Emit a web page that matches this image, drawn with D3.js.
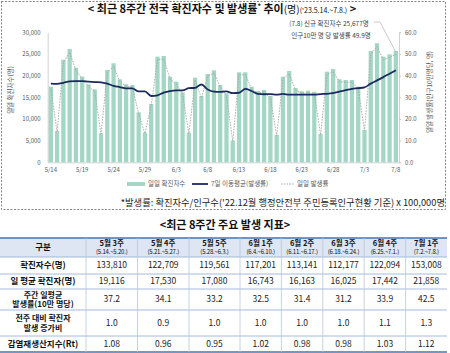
<!DOCTYPE html>
<html><head><meta charset="utf-8">
<script src="https://cdn.jsdelivr.net/npm/d3@7"></script>
<style>
body{margin:0;background:#fff}
svg{display:block}
text{font-family:"Noto Sans CJK KR","Noto Sans",sans-serif}
</style>
</head><body>
<svg id="c" width="450" height="353"></svg>
<script>
// ---------- DATA ----------
const dates = ["5/14","5/15","5/16","5/17","5/18","5/19","5/20","5/21","5/22","5/23","5/24","5/25","5/26","5/27",
"5/28","5/29","5/30","5/31","6/1","6/2","6/3","6/4","6/5","6/6","6/7","6/8","6/9","6/10",
"6/11","6/12","6/13","6/14","6/15","6/16","6/17","6/18","6/19","6/20","6/21","6/22","6/23","6/24",
"6/25","6/26","6/27","6/28","6/29","6/30","7/1","7/2","7/3","7/4","7/5","7/6","7/7","7/8"];
const dailyCases = [17450,7220,23680,26150,21840,19760,18000, 16850,6690,21300,22850,19150,18000,17840,
11540,6830,13460,24380,24530,19760,18600, 16150,6830,19530,15300,20380,21230,17840,
15920,5000,20770,20770,17450,16450,16690, 15300,6300,19760,21070,17150,16390,16530,
16300,6530,20910,21530,19150,19000,19000, 17450,7450,25690,27470,24380,24930,25677];
const movingAvgRate = [36.3,36.2,36.7,37.3,37.5,37.5,37.2, 37.0,36.9,36.3,35.3,34.7,34.1,34.1,
32.7,32.7,30.6,30.9,32.2,32.9,33.2, 33.2,34.2,34.4,35.9,33.6,32.6,32.5,
32.7,31.9,32.1,33.9,32.9,31.6,31.4, 31.5,31.2,31.6,31.2,31.2,31.2,31.2,
31.2,31.5,31.6,31.9,32.6,33.3,33.9, 34.2,34.6,36.3,37.8,39.3,40.9,42.5];
const dailyRate = [33.9,14.0,46.0,50.8,42.4,38.4,35.0, 32.7,13.0,41.4,44.4,37.2,35.0,34.7,
22.4,13.3,26.2,47.4,47.7,38.4,36.1, 31.4,13.3,38.0,29.7,39.6,41.3,34.7,
30.9,9.7,40.4,40.4,33.9,32.0,32.4, 29.7,12.2,38.4,40.9,33.3,31.9,32.1,
31.7,12.7,40.6,41.8,37.2,36.9,36.9, 33.9,14.5,49.9,53.4,47.4,48.4,49.9];
const leftTicks = [0,5000,10000,15000,20000,25000,30000];
const rightTicks = [0,10,20,30,40,50,60];
const xTickLabels = ["5/14","5/19","5/24","5/29","6/3","6/8","6/13","6/18","6/23","6/28","7/3","7/8"];
const legendLabels = ["일일 확진자수","7일 이동평균(발생률)","일일 발생률"];

const weekNames = ["5월 3주","5월 4주","5월 5주","6월 1주","6월 2주","6월 3주","6월 4주","7월 1주"];
const weekRanges = ["(5.14.~5.20.)","(5.21.~5.27.)","(5.28.~6.3.)","(6.4.~6.10.)","(6.11.~6.17.)","(6.18.~6.24.)","(6.25.~7.1.)","(7.2.~7.8.)"];
const weeklyCases = [133810,122709,119561,117201,113141,112177,122094,153008];
const dailyAverage = [19116,17530,17080,16743,16163,16025,17442,21858];
const weeklyRate = [37.2,34.1,33.2,32.5,31.4,31.2,33.9,42.5];
const growthRatio = [1.0,0.9,1.0,1.0,1.0,1.0,1.1,1.3];
const rtValues = [1.08,0.96,0.95,1.02,0.98,0.98,1.03,1.12];
const rowLabels = [["확진자수(명)"],["일 평균 확진자(명)"],["주간 일평균","발생률(10만 명당)"],["전주 대비 확진자","발생 증가비"],["감염재생산지수(Rt)"]];

// ---------- CHART ----------
const svg = d3.select("#c");
const barColor = "#a3d6c5", lineColor = "#1b2a5e", dotColor = "#a6a6a6", axisText = "#595959";

// dashed frame
svg.append("rect").attr("x",1.5).attr("y",1.5).attr("width",444).attr("height",208)
  .attr("fill","none").attr("stroke","#666").attr("stroke-width",0.8).attr("stroke-dasharray","2,1.5");

// title
const t = svg.append("text").attr("x",222).attr("y",12.5).attr("text-anchor","middle").attr("fill","#111");
t.append("tspan").attr("font-size",11).attr("font-weight","bold").text("< 최근 8주간 전국 확진자수 및 발생률");
t.append("tspan").attr("font-size",7).attr("font-weight","bold").attr("dy",-3.5).text("*");
t.append("tspan").attr("font-size",11).attr("font-weight","bold").attr("dy",3.5).text(" 추이");
t.append("tspan").attr("font-size",10).text("(명)");
t.append("tspan").attr("font-size",7).text("('23.5.14.~7.8.)");
t.append("tspan").attr("font-size",11).attr("font-weight","bold").text(" >");

const x = d3.scaleBand().domain(dates).range([47.7,399]).paddingInner(0.32).paddingOuter(0.16);
const yL = d3.scaleLinear().domain([0,30000]).range([162.3,32.3]);
const yR = d3.scaleLinear().domain([0,60]).range([162.3,32.3]);

// axes
const gL = svg.append("g").attr("transform","translate(47.7,0)")
  .call(d3.axisLeft(yL).tickValues(leftTicks).tickSize(0).tickPadding(7).tickFormat(d3.format(",")));
const gR = svg.append("g").attr("transform","translate(399,0)")
  .call(d3.axisRight(yR).tickValues(rightTicks).tickSize(2).tickPadding(4).tickFormat(d3.format(".1f")));
const gX = svg.append("g").attr("transform","translate(0,162.3)")
  .call(d3.axisBottom(x).tickValues(xTickLabels).tickSize(0).tickPadding(5));
[gL,gR,gX].forEach(g=>{
  g.selectAll("path").attr("stroke","#c8c8c8").attr("stroke-width",0.8);
  g.selectAll("line").attr("stroke","#c8c8c8");
  g.selectAll("text").attr("font-size",6).attr("fill",axisText).attr("font-family","'Noto Sans CJK KR',sans-serif");
});

// axis titles
svg.append("text").attr("transform","translate(11,90) rotate(-90)").attr("text-anchor","middle")
  .attr("font-size",6.5).attr("fill",axisText).attr("dy","0.35em").text("일일 확진자수(명)");
svg.append("text").attr("transform","translate(430,92) rotate(-90)").attr("text-anchor","middle")
  .attr("font-size",6.5).attr("fill",axisText).attr("dy","0.35em").text("일일 발생률(인구10만명당, 명)");

// bars
svg.append("g").selectAll("rect").data(dailyCases).join("rect")
  .attr("x",(d,i)=>x(dates[i])).attr("width",x.bandwidth())
  .attr("y",d=>yL(d)).attr("height",d=>yL(0)-yL(d)).attr("fill",barColor);

// dotted daily rate
const cx = i => x(dates[i]) + x.bandwidth()/2;
svg.append("path").datum(dailyRate)
  .attr("d",d3.line().x((d,i)=>cx(i)).y(d=>yR(d)))
  .attr("fill","none").attr("stroke",dotColor).attr("stroke-width",0.9).attr("stroke-dasharray","1.6,1.2");

// moving average
svg.append("path").datum(movingAvgRate)
  .attr("d",d3.line().x((d,i)=>cx(i)).y(d=>yR(d)).curve(d3.curveMonotoneX))
  .attr("fill","none").attr("stroke",lineColor).attr("stroke-width",1.8);

// annotation
const last = dates.length-1;
svg.append("text").attr("x",329).attr("y",26).attr("text-anchor","middle").attr("font-size",6.5).attr("fill","#404040")
  .text("(7.8) 신규 확진자수 " + d3.format(",")(dailyCases[last]) + "명");
svg.append("text").attr("x",331).attr("y",37.5).attr("text-anchor","middle").attr("font-size",6.5).attr("fill","#404040")
  .text("인구10만 명 당 발생률 " + d3.format(".1f")(dailyRate[last]) + "명");
svg.append("path").attr("d",`M374,22L380,22L${cx(last)},${yR(dailyRate[last])-2}`)
  .attr("fill","none").attr("stroke","#b0b0b0").attr("stroke-width",0.7);

// legend
const lg = svg.append("g").attr("transform","translate(0,184)");
lg.append("rect").attr("x",127).attr("y",-2).attr("width",18).attr("height",4).attr("fill",barColor);
lg.append("line").attr("x1",192).attr("x2",208).attr("stroke",lineColor).attr("stroke-width",1.8);
lg.append("line").attr("x1",281).attr("x2",294).attr("stroke",dotColor).attr("stroke-width",0.9).attr("stroke-dasharray","1.6,1.2");
[148,211,297].forEach((lx,i)=>{
  lg.append("text").attr("x",lx).attr("dy","0.35em").attr("font-size",6.5).attr("fill",axisText).text(legendLabels[i]);
});

// footnote
svg.append("text").attr("x",445).attr("y",206).attr("text-anchor","end").attr("font-size",9.3).attr("fill","#222")
  .text("*발생률: 확진자수/인구수('22.12월 행정안전부 주민등록인구현황 기준) x 100,000명");

// ---------- TABLE ----------
svg.append("text").attr("x",225).attr("y",229).attr("text-anchor","middle").attr("font-size",11)
  .attr("font-weight","bold").attr("fill","#111").text("<최근 8주간 주요 발생 지표>");

const colEdges = [0,86,137.5,189,240,281.4,322.8,364.2,405.6,447];
const rowEdges = [238,257,274,289,310,336,352];
const tbl = svg.append("g");
tbl.append("rect").attr("x",colEdges[0]).attr("y",rowEdges[0]).attr("width",colEdges[9]-colEdges[0])
  .attr("height",rowEdges[1]-rowEdges[0]).attr("fill","#dde6f2");
tbl.selectAll("line.h").data(rowEdges).join("line").attr("class","h")
  .attr("x1",colEdges[0]).attr("x2",colEdges[9]).attr("y1",d=>d).attr("y2",d=>d)
  .attr("stroke",(d,i)=> (i===0||i===rowEdges.length-1) ? "#4a72b0" : "#8fa9d0")
  .attr("stroke-width",(d,i)=> (i===0||i===rowEdges.length-1) ? 1.6 : 0.8);
tbl.selectAll("line.v").data(colEdges.slice(1,-1)).join("line").attr("class","v")
  .attr("x1",d=>d).attr("x2",d=>d).attr("y1",rowEdges[0]).attr("y2",rowEdges[6])
  .attr("stroke","#b8c6dc").attr("stroke-width",0.8);

tbl.append("text").attr("x",43).attr("y",(rowEdges[0]+rowEdges[1])/2).attr("dy","0.35em")
  .attr("text-anchor","middle").attr("font-size",8.5).attr("font-weight","bold").attr("fill","#111").text("구분");
weekNames.forEach((w,i)=>{
  const mx = (colEdges[i+1]+colEdges[i+2])/2;
  tbl.append("text").attr("x",mx).attr("y",245.5).attr("text-anchor","middle").attr("font-size",7.5)
    .attr("font-weight","bold").attr("fill","#111").text(w);
  tbl.append("text").attr("x",mx).attr("y",254).attr("text-anchor","middle").attr("font-size",6)
    .attr("fill","#111").attr("letter-spacing",-0.2).text(weekRanges[i]);
});

const fmtInt = d3.format(","), f1 = d3.format(".1f"), f2 = d3.format(".2f");
const rows = [weeklyCases.map(fmtInt), dailyAverage.map(fmtInt), weeklyRate.map(f1), growthRatio.map(f1), rtValues.map(f2)];
rows.forEach((vals,r)=>{
  const yc = (rowEdges[r+1]+rowEdges[r+2])/2;
  const lines = rowLabels[r];
  const fs = lines.length > 1 ? 8 : 8.5;
  lines.forEach((ln,k)=>{
    tbl.append("text").attr("x",43).attr("y", yc + (k-(lines.length-1)/2)*9.6).attr("dy","0.35em")
      .attr("text-anchor","middle").attr("font-size",fs).attr("font-weight","bold").attr("fill","#111").text(ln);
  });
  vals.forEach((v,i)=>{
    tbl.append("text").attr("x",(colEdges[i+1]+colEdges[i+2])/2).attr("y",yc).attr("dy","0.35em")
      .attr("text-anchor","middle").attr("font-size",8.5).attr("fill","#222").text(v);
  });
});
</script>
</body></html>
